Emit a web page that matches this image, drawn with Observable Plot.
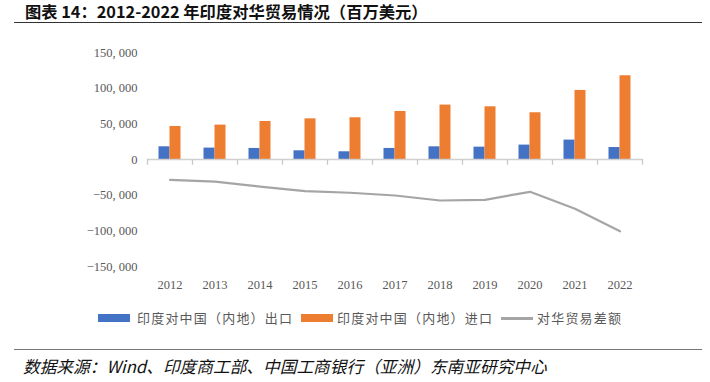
<!DOCTYPE html>
<html><head><meta charset="utf-8">
<script src="https://cdn.jsdelivr.net/npm/d3@7"></script>
<script src="https://cdn.jsdelivr.net/npm/@observablehq/plot@0.6"></script>
<style>
body{margin:0;background:#fff;}
#wrap{position:relative;width:710px;height:382px;overflow:hidden;font-family:"Noto Sans CJK SC",sans-serif;}
#title{position:absolute;left:25px;top:1px;font-size:16.3px;font-weight:bold;color:#111;line-height:20px;white-space:nowrap;}
#tline{position:absolute;left:14px;top:22px;width:688px;height:0;border-top:1.5px solid #333;}
#chart{position:absolute;left:0;top:28px;}
#legend{position:absolute;left:0;top:308px;width:710px;height:20px;font-size:13px;letter-spacing:1.2px;color:#595959;}
.sw{position:absolute;top:6px;height:8px;}
.lt{position:absolute;top:0;line-height:20px;white-space:nowrap;}
#fline{position:absolute;left:14px;top:349px;width:688px;height:0;border-top:1.5px solid #777;}
#foot{position:absolute;left:23px;top:355px;font-size:16.7px;font-style:italic;color:#111;line-height:22px;white-space:nowrap;}
</style></head>
<body>
<div id="wrap">
  <div id="title">图表 14：2012-2022 年印度对华贸易情况（百万美元）</div>
  <div id="tline"></div>
  <div id="chart"></div>
  <div id="legend"></div>
  <div id="fline"></div>
  <div id="foot">数据来源：Wind、印度商工部、中国工商银行（亚洲）东南亚研究中心</div>
</div>
<script>
const years = [2012,2013,2014,2015,2016,2017,2018,2019,2020,2021,2022];
const exportsToChina = [17800,16000,15500,12200,10800,15500,17800,17300,20200,27200,16800];
const importsFromChina = [46300,48200,53300,57000,58500,67300,76300,73900,65500,96800,117400];
const tradeBalance = [-28500,-30900,-37900,-44400,-46600,-50500,-57500,-56500,-45300,-69100,-100600];
const yTicks = [-150000,-100000,-50000,0,50000,100000,150000];
const seriesNames = ["印度对中国（内地）出口","印度对中国（内地）进口","对华贸易差额"];
const seriesColors = ["#4472C4","#ED7D31","#A5A5A5"];

// legend
const legendPos = [[98,137],[301,337],[501,537]];
const lg = document.getElementById("legend");
seriesNames.forEach((name,i)=>{
  const sw = document.createElement("div");
  sw.className = "sw";
  sw.style.left = legendPos[i][0] + "px";
  sw.style.width = "32px";
  sw.style.background = seriesColors[i];
  if (i === 2) { sw.style.top = "9px"; sw.style.height = "2.5px"; }
  lg.appendChild(sw);
  const t = document.createElement("div");
  t.className = "lt";
  t.style.left = legendPos[i][1] + "px";
  t.textContent = name;
  lg.appendChild(t);
});

const rows = years.map((y,i)=>({year:String(y), exp:exportsToChina[i], imp:importsFromChina[i], bal:tradeBalance[i]}));
const fmt = d => d3.format(",")(d).replace(/,/g, ", ");
const yearStr = years.map(String);

const chart = Plot.plot({
  width: 710,
  height: 270,
  marginTop: 24,
  marginBottom: 32,
  marginLeft: 147,
  marginRight: 68,
  style: {fontFamily: "'Liberation Serif', serif", fontSize: "12.5px", color: "#595959", background: "#fff"},
  x: {type: "band", domain: yearStr, padding: 0, round: false, label: null},
  y: {domain: [-150000, 150000], label: null},
  marks: [
    Plot.axisX({ticks: yearStr, tickSize: 0, tickPadding: 14, fontSize: 12.5, letterSpacing: "1px", fill: "#595959"}),
    Plot.axisY({ticks: yTicks, tickFormat: fmt, tickSize: 0, tickPadding: 10, fontSize: 12.5, letterSpacing: "1px", fill: "#595959"}),
    Plot.barY(rows, {x: "year", y: "exp", fill: seriesColors[0], insetLeft: 11.5, insetRight: 22.5}),
    Plot.barY(rows, {x: "year", y: "imp", fill: seriesColors[1], insetLeft: 22.5, insetRight: 11.5}),
    Plot.ruleY([0], {stroke: "#D0D0D0", strokeWidth: 1.3}),
    Plot.ruleX(rows, {x: "year", y1: 0, y2: -8000, dx: -22.5, stroke: "#C8C8C8", strokeWidth: 1.3}),
    Plot.ruleX(rows.slice(-1), {x: "year", y1: 0, y2: -8000, dx: 22.5, stroke: "#C8C8C8", strokeWidth: 1.3}),
    Plot.line(rows, {x: "year", y: "bal", stroke: seriesColors[2], strokeWidth: 2.2})
  ]
});
document.getElementById("chart").appendChild(chart);
</script>
</body></html>
